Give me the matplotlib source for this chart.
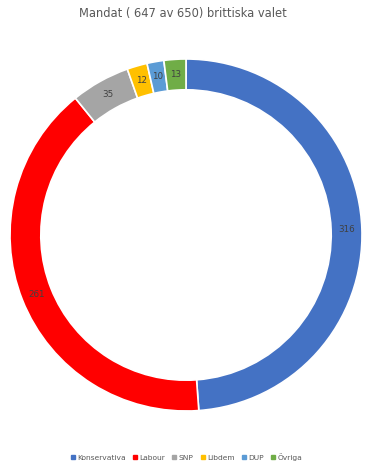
import numpy as np
import matplotlib.pyplot as plt
from matplotlib.lines import Line2D

parties = ["Konservativa", "Labour", "SNP", "Libdem", "DUP", "Övriga"]
seats = [316, 261, 35, 12, 10, 13]
colors = ["#4472C4", "#FF0000", "#A5A5A5", "#FFC000", "#5B9BD5", "#70AD47"]

fig = plt.figure(figsize=(3.65, 4.68), dpi=100)
fig.patch.set_facecolor("white")

# donut placement (pixel based)
cx, cy, r = 186 / 365, 1 - 235 / 468, 176
ax = fig.add_axes([cx - r / 365, cy - r / 468, 2 * r / 365, 2 * r / 468])
ring_w = 0.175
ax.pie(seats, colors=colors, startangle=90, counterclock=False, radius=1.0,
       wedgeprops=dict(width=ring_w, edgecolor="white", linewidth=1.2))
ax.set_xlim(-1, 1)
ax.set_ylim(-1, 1)
ax.set_aspect("equal")
ax.axis("off")

# value labels in the middle of the ring
total = sum(seats)
start = 90.0
rr = 1 - ring_w / 2
for v in seats:
    mid = start - v / total * 360 / 2
    ax.text(rr * np.cos(np.radians(mid)), rr * np.sin(np.radians(mid)), str(v),
            ha="center", va="center", fontsize=6.3, color="#404040")
    start -= v / total * 360

fig.text(0.5, 1 - 14 / 468, "Mandat ( 647 av 650) brittiska valet",
         ha="center", va="center", fontsize=8.3, color="#595959")

handles = [Line2D([0], [0], marker="s", linestyle="none", markersize=3,
                  markerfacecolor=c, markeredgecolor=c) for c in colors]
fig.legend(handles, parties, loc="center", bbox_to_anchor=(0.51, 1 - 457 / 468),
           ncol=6, frameon=False, fontsize=5.4, handletextpad=0.2,
           handlelength=0.8, columnspacing=0.8, labelcolor="#595959")

plt.savefig("out.png", dpi=100, facecolor="white")
